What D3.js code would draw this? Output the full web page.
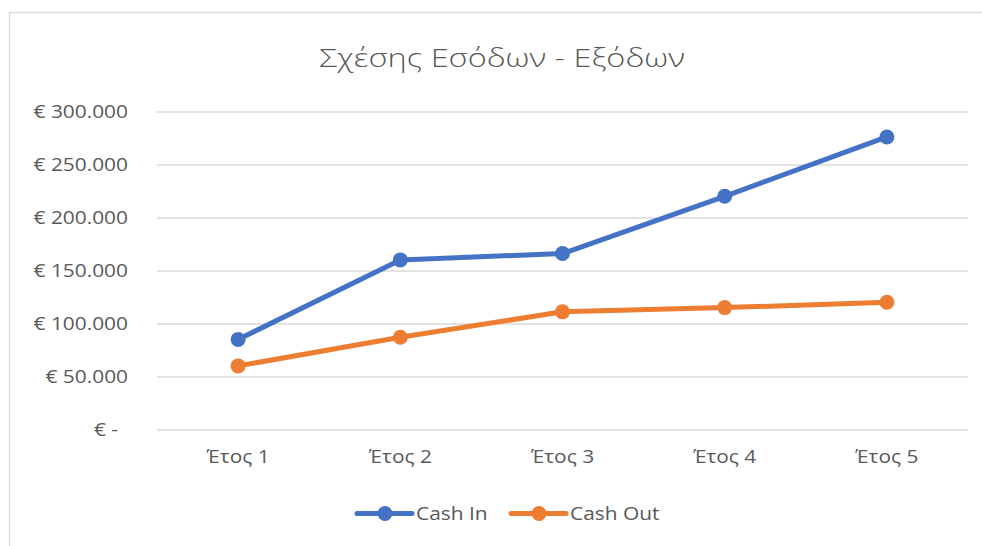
<!DOCTYPE html>
<html>
<head>
<meta charset="utf-8">
<script src="https://cdn.jsdelivr.net/npm/d3@7/dist/d3.min.js"></script>
<style>
  html, body { margin: 0; padding: 0; background: #ffffff; }
  svg { display: block; }
  text { font-family: "Open Sans", "Noto Sans", sans-serif; fill: #595959; }
</style>
</head>
<body>
<svg id="chart" width="982" height="546"></svg>
<script>
const title = "Σχέσης Εσόδων - Εξόδων";
const categories = ["Έτος 1", "Έτος 2", "Έτος 3", "Έτος 4", "Έτος 5"];
const cashIn = [85000, 160000, 166000, 220000, 276000];
const cashOut = [60000, 87000, 111000, 115000, 120000];
const seriesNames = ["Cash In", "Cash Out"];
const seriesColors = ["#4472C4", "#ED7D31"];
const yTicks = [0, 50000, 100000, 150000, 200000, 250000, 300000];

const W = 982, H = 546;
const margin = { left: 157, right: 14, top: 111.5, bottom: 116.5 };
const labelStretch = 1.16;
const titleStretch = 1.3;

const svg = d3.select("#chart");

// chart area border
svg.append("rect")
  .attr("x", 9.5).attr("y", 12.5)
  .attr("width", W + 20).attr("height", H + 20)
  .attr("fill", "#ffffff")
  .attr("stroke", "#d9d9d9").attr("stroke-width", 1.3);

const x = d3.scaleBand().domain(categories)
  .range([margin.left, W - margin.right]).padding(0);
const y = d3.scaleLinear().domain([0, 300000])
  .range([H - margin.bottom, margin.top]);

function stretchText(sel, f) {
  sel.each(function () {
    const len = this.getComputedTextLength();
    d3.select(this).attr("textLength", len * f).attr("lengthAdjust", "spacingAndGlyphs");
  });
}

// gridlines + y labels
const yAxis = d3.axisLeft(y).tickValues(yTicks).tickSize(-(W - margin.right - margin.left))
  .tickPadding(29)
  .tickFormat(d => d === 0 ? "€ -" : "€ " + d3.format(",")(d).replace(/,/g, "."));
const gy = svg.append("g").attr("transform", `translate(${margin.left},0)`).call(yAxis);
gy.select(".domain").remove();
gy.selectAll(".tick line").attr("stroke", "#d9d9d9").attr("stroke-width", 1.3);
gy.selectAll(".tick text")
  .style("font-size", "18px").attr("fill", "#595959")
  .attr("dy", "0.36em")
  .each(function (d) { if (d === 0) d3.select(this).attr("x", -39); })
  .call(stretchText, labelStretch);

// x axis labels
const xAxis = d3.axisBottom(x).tickSize(0).tickPadding(21);
const gx = svg.append("g").attr("transform", `translate(0,${H - margin.bottom})`).call(xAxis);
gx.select(".domain").remove();
gx.selectAll(".tick text").style("font-size", "18px").attr("fill", "#595959").call(stretchText, labelStretch);

// title
svg.append("text")
  .attr("x", 502).attr("y", 67)
  .attr("text-anchor", "middle")
  .style("font-size", "25px").style("font-weight", 300)
  .text(title)
  .call(stretchText, titleStretch);

// series
const series = [cashIn, cashOut];
const line = d3.line()
  .x((d, i) => x(categories[i]) + x.bandwidth() / 2)
  .y(d => y(d));

series.forEach((vals, si) => {
  svg.append("path")
    .datum(vals)
    .attr("d", line)
    .attr("fill", "none")
    .attr("stroke", seriesColors[si])
    .attr("stroke-width", 5)
    .attr("stroke-linejoin", "round")
    .attr("stroke-linecap", "round");
  svg.selectAll(null).data(vals).enter().append("circle")
    .attr("cx", (d, i) => x(categories[i]) + x.bandwidth() / 2)
    .attr("cy", d => y(d))
    .attr("r", 7.5)
    .attr("fill", seriesColors[si]);
});

// legend
const legendItems = [
  { name: seriesNames[0], color: seriesColors[0], x0: 357 },
  { name: seriesNames[1], color: seriesColors[1], x0: 511 }
];
const ly = 513.5;
legendItems.forEach(it => {
  svg.append("line")
    .attr("x1", it.x0).attr("x2", it.x0 + 55)
    .attr("y1", ly).attr("y2", ly)
    .attr("stroke", it.color).attr("stroke-width", 5).attr("stroke-linecap", "round");
  svg.append("circle").attr("cx", it.x0 + 28).attr("cy", ly).attr("r", 7.5).attr("fill", it.color);
  svg.append("text")
    .attr("x", it.x0 + 59).attr("y", ly).attr("dy", "0.36em")
    .style("font-size", "18px")
    .text(it.name)
    .call(stretchText, labelStretch);
});
</script>
</body>
</html>
